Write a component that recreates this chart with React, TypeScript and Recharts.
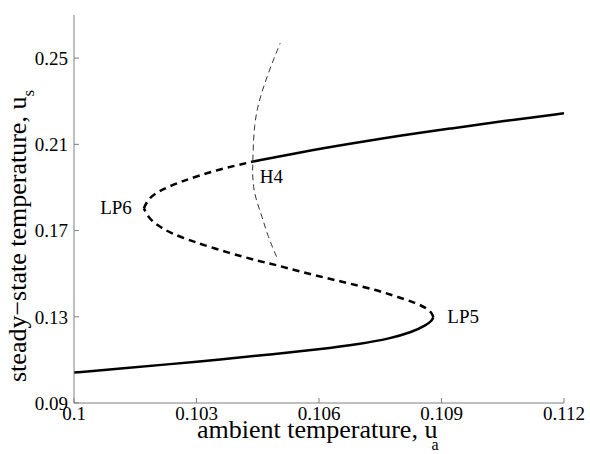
import { LineChart, Line, XAxis, YAxis, ReferenceDot } from 'recharts';

// axis ticks
const xTicks = [0.1, 0.103, 0.106, 0.109, 0.112];
const yTicks = [0.09, 0.13, 0.17, 0.21, 0.25];

// [u_a, u_s] along each branch of the steady-state curve
const lowerStable: [number, number][] = [
  [0.1, 0.1041], [0.10113, 0.106], [0.10235, 0.108], [0.10358, 0.1102],
  [0.1048, 0.1125], [0.10602, 0.115], [0.107, 0.1174], [0.10774, 0.1199],
  [0.10828, 0.1229], [0.10862, 0.126], [0.10877, 0.1283], [0.1088, 0.1298],
];
const middleUnstable: [number, number][] = [
  [0.1088, 0.1298], [0.10876, 0.132], [0.10862, 0.1341], [0.10839, 0.1363],
  [0.10789, 0.1394], [0.10741, 0.1424], [0.10676, 0.1454], [0.10619, 0.1479],
  [0.10553, 0.151], [0.10496, 0.154], [0.10451, 0.1559], [0.10382, 0.1595],
  [0.10292, 0.1648], [0.10235, 0.1689], [0.10203, 0.1726], [0.10182, 0.1761],
  [0.10171, 0.1803],
];
const upperUnstable: [number, number][] = [
  [0.10171, 0.1803], [0.10181, 0.1844], [0.10203, 0.188], [0.1026, 0.1927],
  [0.10349, 0.1981], [0.10438, 0.202],
];
const upperStable: [number, number][] = [
  [0.10438, 0.202], [0.10553, 0.2063], [0.10676, 0.2103], [0.10798, 0.214],
  [0.10921, 0.2173], [0.11043, 0.2206], [0.112, 0.2244],
];
// Hopf branch through H4
const hopf: [number, number][] = [
  [0.10496, 0.1579], [0.10475, 0.1672], [0.1046, 0.1768], [0.10446, 0.1842],
  [0.10439, 0.1903], [0.10437, 0.1972], [0.10438, 0.202], [0.10439, 0.2097],
  [0.10442, 0.219], [0.10449, 0.2269], [0.1046, 0.2343], [0.10475, 0.2426],
  [0.1049, 0.25], [0.10505, 0.2569],
];

// labelled points
const points = [
  { name: 'LP5', x: 0.1088, y: 0.1298, dx: 14, dy: 6, anchor: 'start' },
  { name: 'LP6', x: 0.10171, y: 0.1803, dx: -12, dy: 6, anchor: 'end' },
  { name: 'H4', x: 0.10438, y: 0.202, dx: 7, dy: 21, anchor: 'start' },
];

const toRows = (pts: [number, number][]) => pts.map(([x, y]) => ({ x, y }));

const FONT = '"Liberation Serif", "Times New Roman", serif';
const AXIS_GRAY = '#808080';

const pointLabel = (text: string, dx: number, dy: number, anchor: string) => (props: any) => {
  const { x, y, width, height } = props.viewBox;
  return (
    <text
      x={x + width / 2 + dx}
      y={y + height / 2 + dy}
      textAnchor={anchor}
      fontFamily={FONT}
      fontSize={19}
      fill="#000"
    >
      {text}
    </text>
  );
};

const xTitle = () => (
  <text x={197} y={438} fontFamily={FONT} fontSize={26} fill="#000">
    ambient temperature, u
    <tspan dx={-6} dy={12} fontSize={16}>a</tspan>
  </text>
);

const yTitle = () => (
  <text
    x={26}
    y={382}
    transform="rotate(-90, 26, 382)"
    fontFamily={FONT}
    fontSize={26}
    fill="#000"
  >
    steady−state temperature, u
    <tspan dy={8} fontSize={17}>s</tspan>
  </text>
);

const tickStyle = { fontFamily: FONT, fontSize: 19, fill: '#000' };

export default function App() {
  const thick = { stroke: '#000', strokeWidth: 2.5, dot: false, isAnimationActive: false, type: 'basis' as const };
  return (
    <div style={{ position: 'absolute', left: 0, top: 0, background: '#fff' }}>
      <LineChart width={590} height={454} margin={{ top: 15, right: 26, bottom: 0, left: 0 }}>
        <XAxis
          dataKey="x"
          type="number"
          domain={[0.1, 0.112]}
          ticks={xTicks}
          allowDataOverflow
          height={51}
          tickSize={-5}
          tickMargin={9}
          tick={tickStyle}
          axisLine={{ stroke: AXIS_GRAY }}
          tickLine={{ stroke: AXIS_GRAY }}
          label={{ content: xTitle }}
        />
        <XAxis
          xAxisId="top"
          orientation="top"
          type="number"
          domain={[0.1, 0.112]}
          ticks={xTicks}
          allowDataOverflow
          height={0}
          tickSize={-5}
          tick={false}
          axisLine={{ stroke: '#222', strokeDasharray: '2 1' }}
          tickLine={{ stroke: AXIS_GRAY }}
        />
        <YAxis
          dataKey="y"
          type="number"
          domain={[0.09, 0.27]}
          ticks={yTicks}
          allowDataOverflow
          width={74}
          tickSize={-5}
          tickMargin={11}
          tick={tickStyle}
          axisLine={{ stroke: AXIS_GRAY }}
          tickLine={{ stroke: AXIS_GRAY }}
          label={{ content: yTitle }}
        />
        <YAxis
          yAxisId="right"
          orientation="right"
          type="number"
          domain={[0.09, 0.27]}
          ticks={yTicks}
          allowDataOverflow
          width={0}
          tickSize={-5}
          tick={false}
          axisLine={{ stroke: AXIS_GRAY }}
          tickLine={{ stroke: AXIS_GRAY }}
        />
        <Line data={toRows(hopf)} dataKey="y" stroke="#333" strokeWidth={1} strokeDasharray="6 4" dot={false} type="basis" isAnimationActive={false} />
        <Line data={toRows(lowerStable)} dataKey="y" {...thick} />
        <Line data={toRows(middleUnstable)} dataKey="y" {...thick} strokeDasharray="7 5" />
        <Line data={toRows(upperUnstable)} dataKey="y" {...thick} strokeDasharray="7 5" />
        <Line data={toRows(upperStable)} dataKey="y" {...thick} />
        {points.map((p) => (
          <ReferenceDot
            key={p.name}
            x={p.x}
            y={p.y}
            r={0}
            fill="none"
            stroke="none"
            label={{ content: pointLabel(p.name, p.dx, p.dy, p.anchor) }}
          />
        ))}
      </LineChart>
    </div>
  );
}
